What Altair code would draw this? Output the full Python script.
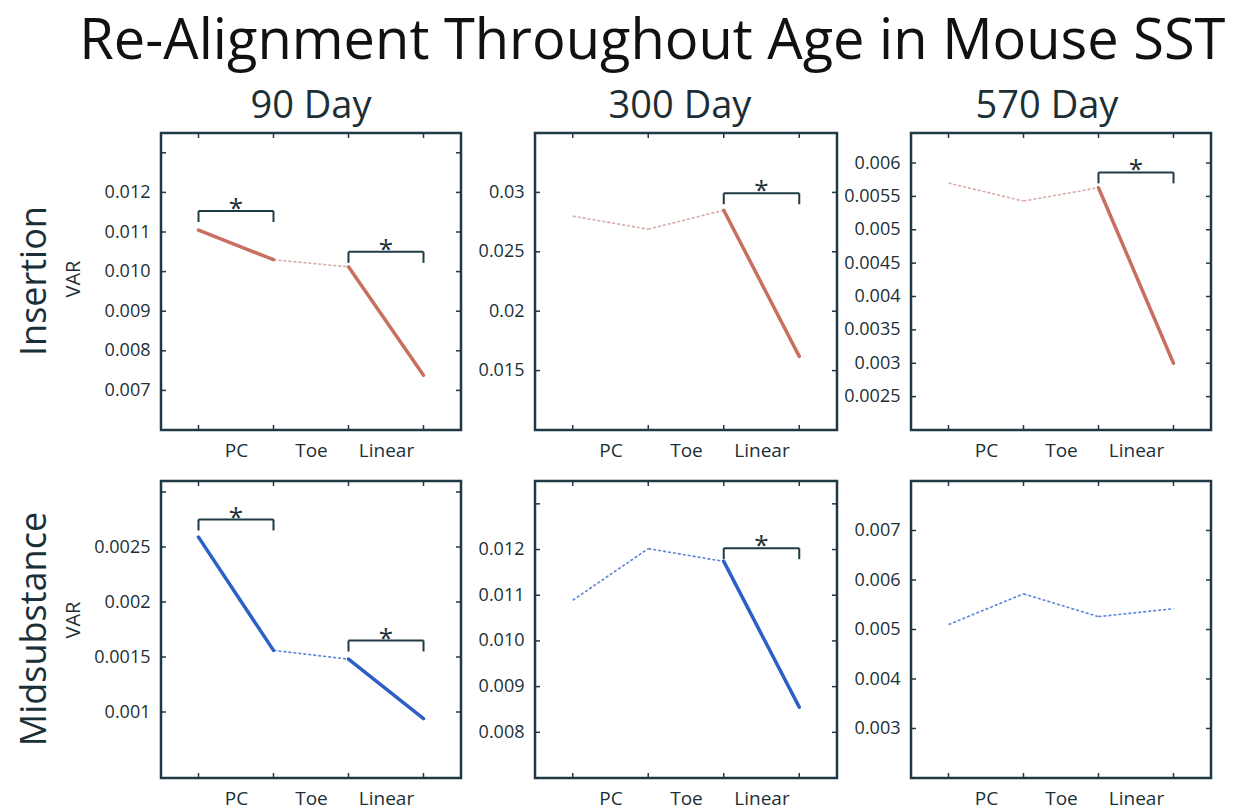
import altair as alt
import pandas as pd

# ---------------- data ----------------
title_text = "Re-Alignment Throughout Age in Mouse SST"
ages = ["90 Day", "300 Day", "570 Day"]
rows = ["Insertion", "Midsubstance"]
categories = ["PC", "Toe", "Linear"]
boundaries = [1, 2, 3, 4]          # region boundaries on the x axis

ins_90 = [0.01105, 0.01030, 0.01012, 0.00738]
ins_300 = [0.0280, 0.0269, 0.0285, 0.0162]
ins_570 = [0.00570, 0.00543, 0.00563, 0.00300]
mid_90 = [0.00259, 0.00156, 0.00148, 0.00094]
mid_300 = [0.01089, 0.01202, 0.01174, 0.00855]
mid_570 = [0.00510, 0.00572, 0.00526, 0.00542]

# significance of the PC, Toe, Linear segment
sig_ins_90 = [True, False, True]
sig_ins_300 = [False, False, True]
sig_ins_570 = [False, False, True]
sig_mid_90 = [True, False, True]
sig_mid_300 = [False, False, True]
sig_mid_570 = [False, False, False]

# y axes
dom_ins_90 = [0.006, 0.0135]
dom_ins_300 = [0.010, 0.035]
dom_ins_570 = [0.002, 0.00645]
dom_mid_90 = [0.0004, 0.0031]
dom_mid_300 = [0.007, 0.0135]
dom_mid_570 = [0.002, 0.008]

ticks_ins_90 = [0.007, 0.008, 0.009, 0.010, 0.011, 0.012, 0.013]
ticks_ins_300 = [0.015, 0.020, 0.025, 0.030]
ticks_ins_570 = [0.0025, 0.003, 0.0035, 0.004, 0.0045, 0.005, 0.0055, 0.006]
ticks_mid_90 = [0.001, 0.0015, 0.002, 0.0025, 0.003]
ticks_mid_300 = [0.008, 0.009, 0.010, 0.011, 0.012, 0.013]
ticks_mid_570 = [0.003, 0.004, 0.005, 0.006, 0.007]

# significance brackets: (from boundary, to boundary, level)
br_ins_90 = [(1, 2, 0.01153), (3, 4, 0.01050)]
br_ins_300 = [(3, 4, 0.02993)]
br_ins_570 = [(3, 4, 0.00586)]
br_mid_90 = [(1, 2, 0.00275), (3, 4, 0.00165)]
br_mid_300 = [(3, 4, 0.01203)]
br_mid_570 = []

# ---------------- styling ----------------
FONT = "Open Sans"
INK = "#1c2f37"
FRAME = "#1f3a44"
INS_SIG, INS_NS = "#c8705f", "#d9aaa6"
MID_SIG, MID_NS = "#2e5fc6", "#5a84d6"
H = 297


def label_expr():
    return (f"datum.value < 2 ? '{categories[0]}' : "
            f"datum.value < 3 ? '{categories[1]}' : '{categories[2]}'")


def panel(vals, sig, dom, ticks, fmt, hide_top, brackets, cs, cn, W,
          title=None, title_dx=0, row_label=None, var_y=146):
    seg_rows = []
    for i in range(3):
        for j in (0, 1):
            seg_rows.append({"x": boundaries[i + j], "y": vals[i + j],
                             "seg": i, "sig": "sig" if sig[i] else "ns"})
    df = pd.DataFrame(seg_rows)

    xscale = alt.Scale(domain=[0.5, 4.5], nice=False, zero=False)
    yscale = alt.Scale(domain=dom, nice=False, zero=False)
    lab = f"datum.value >= {ticks[-1] - 1e-9} ? '' : format(datum.value, '{fmt}')" if hide_top \
        else f"format(datum.value, '{fmt}')"
    xaxis = alt.Axis(values=[1.5, 2.5, 3.5], labelExpr=label_expr(), ticks=False,
                     domain=False, grid=False, labelFontSize=19, labelFont=FONT,
                     labelColor=INK, labelPadding=11, title=None)
    yaxis = alt.Axis(values=ticks, labelExpr=lab, ticks=False, domain=False,
                     grid=False, labelFontSize=18, labelFont=FONT, labelColor=INK,
                     labelPadding=11, title=None)

    base = alt.Chart(df)
    layers = []
    layers.append(base.transform_filter("datum.sig == 'ns'").mark_line(
        color=cn, strokeWidth=1.6, strokeDash=[3, 2]).encode(
        x=alt.X("x:Q", scale=xscale, axis=xaxis),
        y=alt.Y("y:Q", scale=yscale, axis=yaxis),
        detail="seg:N"))
    layers.append(base.transform_filter("datum.sig == 'sig'").mark_line(
        color=cs, strokeWidth=3.5, strokeCap="round").encode(
        x=alt.X("x:Q", scale=xscale, axis=xaxis),
        y=alt.Y("y:Q", scale=yscale, axis=yaxis),
        detail="seg:N"))

    # inward tick marks on all four sides
    ydf = pd.DataFrame({"v": ticks})
    xdf = pd.DataFrame({"b": boundaries})
    layers.append(alt.Chart(ydf).mark_rule(color=FRAME, strokeWidth=1.5).encode(
        y=alt.Y("v:Q", scale=yscale), x=alt.value(0), x2=alt.value(5)))
    layers.append(alt.Chart(ydf).mark_rule(color=FRAME, strokeWidth=1.5).encode(
        y=alt.Y("v:Q", scale=yscale), x=alt.value(W - 5), x2=alt.value(W)))
    layers.append(alt.Chart(xdf).mark_rule(color=FRAME, strokeWidth=1.5).encode(
        x=alt.X("b:Q", scale=xscale), y=alt.value(H - 5), y2=alt.value(H)))
    layers.append(alt.Chart(xdf).mark_rule(color=FRAME, strokeWidth=1.5).encode(
        x=alt.X("b:Q", scale=xscale), y=alt.value(0), y2=alt.value(5)))

    if brackets:
        bdf = pd.DataFrame({"x1": [b[0] for b in brackets],
                            "x2": [b[1] for b in brackets],
                            "lv": [b[2] for b in brackets]})
        bc = alt.Chart(bdf)
        layers.append(bc.mark_rule(color=FRAME, strokeWidth=2).encode(
            x=alt.X("x1:Q", scale=xscale), x2="x2:Q", y=alt.Y("lv:Q", scale=yscale)))
        layers.append(bc.mark_rule(color=FRAME, strokeWidth=2, y2Offset=11).encode(
            x=alt.X("x1:Q", scale=xscale), y=alt.Y("lv:Q", scale=yscale), y2="lv:Q"))
        layers.append(bc.mark_rule(color=FRAME, strokeWidth=2, y2Offset=11).encode(
            x=alt.X("x2:Q", scale=xscale), y=alt.Y("lv:Q", scale=yscale), y2="lv:Q"))
        layers.append(bc.transform_calculate(mx="(datum.x1 + datum.x2) / 2").mark_text(
            text="*", fontSize=26, font=FONT, color=INK, baseline="alphabetic", dy=6).encode(
            x=alt.X("mx:Q", scale=xscale), y=alt.Y("lv:Q", scale=yscale)))

    if row_label is not None:
        rdf = pd.DataFrame({"t": [row_label], "u": ["VAR"]})
        layers.append(alt.Chart(rdf).mark_text(
            angle=270, fontSize=36, font=FONT, color=INK, align="center",
            baseline="middle").encode(text="t:N", x=alt.value(-126), y=alt.value(148)))
        layers.append(alt.Chart(rdf).mark_text(
            angle=270, fontSize=20, font=FONT, color=INK, align="center",
            baseline="middle").encode(text="u:N", x=alt.value(-87), y=alt.value(var_y)))

    ch = alt.layer(*layers).properties(width=W, height=H)
    if title is not None:
        ch = ch.properties(title=alt.TitleParams(title, fontSize=38, font=FONT,
                                                  fontWeight="normal", color=INK,
                                                  offset=6, dx=title_dx))
    return ch


p1 = panel(ins_90, sig_ins_90, dom_ins_90, ticks_ins_90, ".3f", True, br_ins_90,
           INS_SIG, INS_NS, 300, title=ages[0], row_label=rows[0], var_y=146)
p2 = panel(ins_300, sig_ins_300, dom_ins_300, ticks_ins_300, ".3~f", False, br_ins_300,
           INS_SIG, INS_NS, 302, title=ages[1], title_dx=-6)
p3 = panel(ins_570, sig_ins_570, dom_ins_570, ticks_ins_570, ".4~f", False, br_ins_570,
           INS_SIG, INS_NS, 300, title=ages[2], title_dx=-14)
p4 = panel(mid_90, sig_mid_90, dom_mid_90, ticks_mid_90, ".4~f", True, br_mid_90,
           MID_SIG, MID_NS, 300, row_label=rows[1], var_y=139)
p5 = panel(mid_300, sig_mid_300, dom_mid_300, ticks_mid_300, ".3f", True, br_mid_300,
           MID_SIG, MID_NS, 302)
p6 = panel(mid_570, sig_mid_570, dom_mid_570, ticks_mid_570, ".3f", False, br_mid_570,
           MID_SIG, MID_NS, 300)

chart = alt.concat(p1, p2, p3, p4, p5, p6, columns=3, bounds="flush",
                   spacing={"row": 51, "column": 74}).resolve_scale(
    x="independent", y="independent").properties(
    title=alt.TitleParams(title_text, fontSize=56, font=FONT, fontWeight="normal",
                          color="#111", anchor="middle", offset=16, dx=38),
    padding={"left": 7, "top": 6, "right": 5, "bottom": 5},
    background="white",
).configure_view(stroke=FRAME, strokeWidth=2.5)

chart.save("out.html", embed_options={"renderer": "svg", "actions": False})
